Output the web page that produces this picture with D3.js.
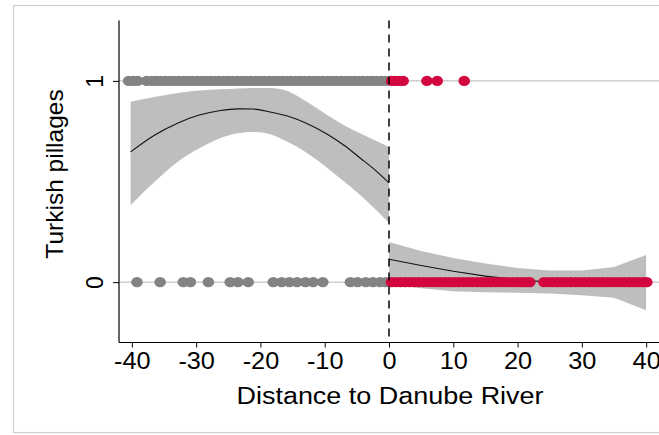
<!DOCTYPE html>
<html>
<head>
<meta charset="utf-8">
<script src="https://cdn.jsdelivr.net/npm/d3@7"></script>
<style>
  html, body { margin: 0; padding: 0; background: #fff; }
  svg { display: block; }
  text { font-family: "Liberation Sans", Arial, sans-serif; fill: #000; }
</style>
</head>
<body>
<svg id="chart" width="659" height="435"></svg>
<script>
// Observations: distance (km) to the Danube, outcome 0/1
const westPillaged = [-40.5, -39.8, -39.1, -37.7, -36.9, -36.2, -35.5, -34.8, -34.1, -33.4,
  -32.7, -32.0, -31.3, -30.6, -29.9, -29.2, -28.5, -27.8, -27.1, -26.4, -25.7, -25.0,
  -24.3, -23.6, -22.9, -22.2, -21.5, -20.8, -20.1, -19.4, -18.7, -18.0, -17.3, -16.6,
  -15.9, -15.2, -14.5, -13.8, -13.1, -12.4, -11.7, -11.0, -10.3, -9.6, -8.9, -8.2, -7.5,
  -6.8, -6.1, -5.4, -4.7, -4.0, -3.3, -2.6, -1.9, -1.2, -0.5];
const westSpared = [-39.2, -35.6, -32.0, -30.9, -28.1, -24.7, -23.5, -21.9, -18.0, -16.7,
  -15.5, -14.3, -13.0, -11.8, -10.3, -6.0, -4.9, -3.6, -2.5, -1.4, -0.5];
const eastPillaged = [0.4, 1.0, 1.6, 2.2, 5.9, 7.5, 11.7];
const eastSpared = [0.4, 1.1, 1.8, 2.5, 3.2, 3.9, 4.6, 5.3, 6.0, 6.7, 7.4, 8.1, 8.8, 9.5,
  10.2, 10.9, 11.6, 12.3, 13.0, 13.7, 14.4, 15.1, 15.8, 16.5, 17.2, 17.9, 18.6, 19.3,
  20.0, 20.7, 21.4, 21.9, 24.1, 24.8, 25.5, 26.2, 26.9, 27.6, 28.3, 29.0, 29.7, 30.4,
  31.1, 31.8, 32.5, 33.2, 33.9, 34.6, 35.3, 36.0, 36.7, 37.4, 38.1, 38.8, 39.5, 40.1];

// Fitted curve with 95% band, west of the river
const westFitX     = [-40.2, -36.5, -32.9, -29.5, -26.2, -23.5, -21.1, -18.5, -15.8, -12.7, -9.6, -7.0, -4.5, -2.2, 0];
const westFit      = [0.647, 0.730, 0.790, 0.830, 0.853, 0.861, 0.860, 0.845, 0.825, 0.787, 0.735, 0.680, 0.617, 0.558, 0.493];
const westFitUpper = [0.896, 0.920, 0.940, 0.952, 0.958, 0.962, 0.965, 0.965, 0.950, 0.895, 0.830, 0.780, 0.740, 0.705, 0.672];
const westFitLower = [0.383, 0.498, 0.597, 0.665, 0.716, 0.740, 0.746, 0.735, 0.697, 0.640, 0.567, 0.500, 0.433, 0.365, 0.294];

// Fitted curve with 95% band, east of the river
const eastFitX     = [0, 5, 10, 15, 20, 25, 30, 35, 40];
const eastFit      = [0.114, 0.083, 0.054, 0.030, 0.012, 0.000, -0.005, -0.005, 0.000];
const eastFitUpper = [0.199, 0.155, 0.120, 0.092, 0.070, 0.058, 0.058, 0.075, 0.135];
const eastFitLower = [-0.010, -0.030, -0.045, -0.050, -0.053, -0.057, -0.065, -0.078, -0.140];

const xTicks = [-40, -30, -20, -10, 0, 10, 20, 30, 40];
const yTicks = [0, 1];
const xTitle = "Distance to Danube River";
const yTitle = "Turkish pillages";

const svg = d3.select("#chart");

const x = d3.scaleLinear().domain([-42, 42]).range([119, 659]);
const y = d3.scaleLinear().domain([-0.3, 1.3]).range([342.5, 20.5]);

// outer figure frame
svg.append("rect")
  .attr("x", 13.5).attr("y", 5.5).attr("width", 700).attr("height", 427)
  .attr("fill", "none").attr("stroke", "#cfcfcf").attr("stroke-width", 1.2);

// horizontal reference lines at the outcome values
svg.append("g").selectAll("line").data(yTicks).join("line")
  .attr("x1", x(-42)).attr("x2", 659)
  .attr("y1", d => y(d)).attr("y2", d => y(d))
  .attr("stroke", "#b4b4b4").attr("stroke-width", 1);

function side(xs, fit, lo, hi, curve) {
  const rows = xs.map((v, i) => ({ x: v, f: fit[i], lo: lo[i], hi: hi[i] }));
  svg.append("path").datum(rows)
    .attr("d", d3.area().x(d => x(d.x)).y0(d => y(d.lo)).y1(d => y(d.hi)).curve(curve))
    .attr("fill", "#bebebe");
  svg.append("path").datum(rows)
    .attr("d", d3.line().x(d => x(d.x)).y(d => y(d.f)).curve(curve))
    .attr("fill", "none").attr("stroke", "#111").attr("stroke-width", 1.1);
}
side(westFitX, westFit, westFitLower, westFitUpper, d3.curveMonotoneX);
side(eastFitX, eastFit, eastFitLower, eastFitUpper, d3.curveLinear);

// observations (markers slightly wider than tall)
function dots(xs, val, color) {
  svg.append("g").selectAll("ellipse").data(xs).join("ellipse")
    .attr("cx", d => x(d)).attr("cy", y(val)).attr("rx", 5.8).attr("ry", 5.2)
    .attr("fill", color);
}
dots(westPillaged, 1, "#838383");
dots(westSpared, 0, "#838383");
dots(eastPillaged, 1, "#d3073f");
dots(eastSpared, 0, "#d3073f");

// cutoff at the river
svg.append("line")
  .attr("x1", x(0)).attr("x2", x(0)).attr("y1", y(1.3)).attr("y2", y(-0.3))
  .attr("stroke", "#000").attr("stroke-width", 1.5).attr("stroke-dasharray", "8,6");

// x axis
const gx = svg.append("g").attr("transform", `translate(0,${y(-0.3)})`)
  .call(d3.axisBottom(x).tickValues(xTicks).tickSize(5).tickPadding(5).tickFormat(d3.format("d")));
gx.select(".domain").attr("d", `M${x(-42)},0H659`).attr("stroke", "#000").attr("stroke-width", 1.2);
gx.selectAll(".tick line").attr("stroke", "#000");
gx.selectAll(".tick text")
  .attr("font-family", "Liberation Sans, Arial, sans-serif")
  .attr("font-size", 23).attr("dy", "0.72em")
  .attr("transform", "scale(1.1,1)")
  .text(d => d < 0 ? "-" + Math.abs(d) : String(d));

// y axis with vertical labels
const gy = svg.append("g").attr("transform", `translate(${x(-42)},0)`)
  .call(d3.axisLeft(y).tickValues(yTicks).tickSize(6).tickFormat(d3.format("d")));
gy.select(".domain").attr("d", `M0,${y(1.3)}V${y(-0.3)}`).attr("stroke", "#000").attr("stroke-width", 1.2);
gy.selectAll(".tick line").attr("stroke", "#000");
gy.selectAll(".tick text")
  .attr("font-family", "Liberation Sans, Arial, sans-serif")
  .attr("font-size", 23)
  .attr("x", null).attr("dy", null)
  .attr("text-anchor", "middle")
  .attr("transform", "translate(-16,0) rotate(-90)");

// axis titles
svg.append("text")
  .attr("transform", "translate(390,404) scale(1.1,1)")
  .attr("text-anchor", "middle").attr("font-size", 24.5)
  .text(xTitle);
svg.append("text")
  .attr("transform", "translate(63,174) rotate(-90)")
  .attr("text-anchor", "middle").attr("font-size", 24.5)
  .text(yTitle);
</script>
</body>
</html>
